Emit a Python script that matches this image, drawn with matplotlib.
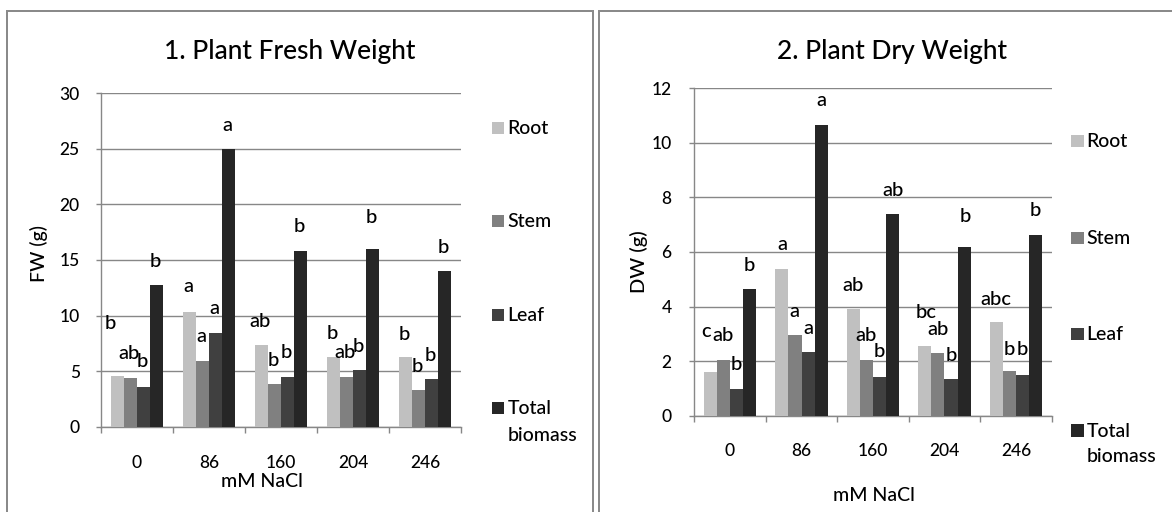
import matplotlib
matplotlib.use("Agg")
import matplotlib.pyplot as plt
from matplotlib.patches import Rectangle
import numpy as np

# ---------------- data ----------------
categories = ["0", "86", "160", "204", "246"]
series_names = ["Root", "Stem", "Leaf", "Total\nbiomass"]

fw_root = [4.56, 10.35, 7.35, 6.27, 6.30]
fw_stem = [4.41, 5.94, 3.84, 4.50, 3.30]
fw_leaf = [3.60, 8.46, 4.50, 5.07, 4.26]
fw_total = [12.72, 24.96, 15.84, 15.99, 13.98]

dw_root = [1.62, 5.36, 3.91, 2.56, 3.44]
dw_stem = [2.03, 2.95, 2.04, 2.31, 1.65]
dw_leaf = [0.99, 2.33, 1.43, 1.33, 1.50]
dw_total = [4.66, 10.66, 7.40, 6.20, 6.63]

fw_letters_root = ["b", "a", "ab", "b", "b"]
fw_letters_stem = ["ab", "a", "b", "ab", "b"]
fw_letters_leaf = ["b", "a", "b", "b", "b"]
fw_letters_total = ["b", "a", "b", "b", "b"]

dw_letters_root = ["c", "a", "ab", "bc", "abc"]
dw_letters_stem = ["ab", "a", "ab", "ab", "b"]
dw_letters_leaf = ["b", "a", "b", "b", "b"]
dw_letters_total = ["b", "a", "ab", "b", "b"]

# label placement (pixel offsets of each letter's baseline from its bar top)
fw_label_dy = [[46.7, 19.4, 18.3, 18.0, 16.7],
               [18.7, 19.0, 18.0, 19.0, 18.3],
               [19.4, 18.4, 19.0, 18.1, 18.4],
               [18.7, 18.4, 19.0, 25.8, 18.7]]
fw_label_dx = [[-6.5, -1, -1, -1, -1],
               [-1, -1, -1, -1, -1],
               [-1, -1, -1, -1, -1],
               [-1, -1, -1, -1, -1]]
dw_label_dy = [[35.0, 19.0, 18.3, 28.3, 17.0],
               [19.7, 18.0, 19.3, 17.7, 16.0],
               [19.0, 18.3, 19.3, 18.7, 20.0],
               [18.0, 19.3, 18.0, 25.0, 19.0]]
dw_label_dx = [[-4, 0, 0, 1, 0],
               [0, -1, 0, 0.5, 0],
               [0, 0, 0, 0.5, 0],
               [0, 0, 0, 1.5, 0]]

# ---------------- style ----------------
colors = ["#c0c0c0", "#808080", "#404040", "#262626"]
grid_col = "#878787"
FONT = ["Lato", "DejaVu Sans"]
plt.rcParams["font.family"] = FONT
plt.rcParams["font.weight"] = "medium"

W, H = 1172, 512
fig = plt.figure(figsize=(W / 100, H / 100), dpi=100)
fig.patch.set_facecolor("white")


def fx(px):
    return px / W


def fy(py):
    return 1 - py / H


def px2pt(p):
    return p * 0.72


# panel borders
for x0, x1 in [(7.3, 593.0), (599.0, 1190.0)]:
    fig.add_artist(Rectangle((fx(x0), fy(530)), fx(x1) - fx(x0), fy(11) - fy(530),
                             transform=fig.transFigure, fill=False,
                             edgecolor="#8a8a8a", lw=px2pt(2.0), zorder=0))


def draw_panel(rect, series, letters, dys, dxs, ymax, ystep, xpad, ypad):
    ax = fig.add_axes(rect)
    n = len(categories)
    x = np.arange(n)
    w = 0.183
    for j, (vals, col) in enumerate(zip(series, colors)):
        xs = x + (j - 1.5) * w
        ax.bar(xs, vals, width=w, color=col, edgecolor="none", zorder=3)
        for i in range(n):
            ax.annotate(letters[j][i], xy=(xs[i], vals[i]),
                        xytext=(dxs[j][i], dys[j][i]), textcoords="offset pixels",
                        ha="center", va="baseline", fontsize=14.5, color="black",
                        zorder=4, annotation_clip=False)
    ax.set_xlim(-0.5, n - 0.5)
    ax.set_ylim(0, ymax)
    ax.set_yticks(np.arange(0, ymax + 0.01, ystep))
    ax.yaxis.grid(True, color=grid_col, lw=px2pt(1.4))
    ax.set_axisbelow(True)
    ax.set_xticks(x)
    ax.set_xticklabels(categories)
    ax.set_xticks(np.arange(-0.5, n), minor=True)
    ax.tick_params(axis="x", which="major", length=0, pad=xpad, labelsize=12.5)
    ax.tick_params(axis="x", which="minor", length=px2pt(5.5), color=grid_col,
                   width=px2pt(1.4), direction="out")
    ax.tick_params(axis="y", length=px2pt(5.3), color=grid_col, width=px2pt(1.4),
                   pad=ypad, labelsize=12.5)
    for s in ["top", "right"]:
        ax.spines[s].set_visible(False)
    for s in ["left", "bottom"]:
        ax.spines[s].set_color(grid_col)
        ax.spines[s].set_linewidth(px2pt(1.4))
    ax.patch.set_alpha(0)
    return ax


# left panel: fresh weight
ax1 = draw_panel([fx(101), fy(426.7), fx(461) - fx(101), fy(93.3) - fy(426.7)],
                 [fw_root, fw_stem, fw_leaf, fw_total],
                 [fw_letters_root, fw_letters_stem, fw_letters_leaf, fw_letters_total],
                 fw_label_dy, fw_label_dx, 30, 5, xpad=20.5, ypad=11.5)
# right panel: dry weight
ax2 = draw_panel([fx(694.3), fy(415.7), fx(1051.7) - fx(694.3), fy(88.3) - fy(415.7)],
                 [dw_root, dw_stem, dw_leaf, dw_total],
                 [dw_letters_root, dw_letters_stem, dw_letters_leaf, dw_letters_total],
                 dw_label_dy, dw_label_dx, 12, 2, xpad=20, ypad=12.5)

# titles
fig.text(fx(290), fy(59.3), "1. Plant Fresh Weight", ha="center", va="baseline", fontsize=19)
fig.text(fx(892), fy(59.3), "2. Plant Dry Weight", ha="center", va="baseline", fontsize=19)

# axis labels
fig.text(fx(262), fy(481.7), "mM NaCl", ha="center", va="center", fontsize=14)
fig.text(fx(874), fy(495.7), "mM NaCl", ha="center", va="center", fontsize=14)
fig.text(fx(39), fy(253.5), "FW (g)", ha="center", va="center", rotation=90, fontsize=14)
fig.text(fx(639), fy(262), "DW (g)", ha="center", va="center", rotation=90, fontsize=14.5)

# legends
def legend(sq_x, txt_x, baselines, second_gap):
    for name, col, b in zip(series_names, colors, baselines):
        fig.add_artist(Rectangle((fx(sq_x), fy(b)), fx(12.5), 12.5 / H,
                                 transform=fig.transFigure, facecolor=col,
                                 edgecolor="none"))
        lines = name.split("\n")
        for k, ln in enumerate(lines):
            fig.text(fx(txt_x), fy(b + k * second_gap), ln, ha="left",
                     va="baseline", fontsize=14)


legend(491.5, 507.7, [134, 227.3, 321, 414.3], 26.4)
legend(1071, 1086.7, [147.3, 244, 340, 436.7], 25.0)

fig.savefig("out.png", dpi=100, facecolor="white")
